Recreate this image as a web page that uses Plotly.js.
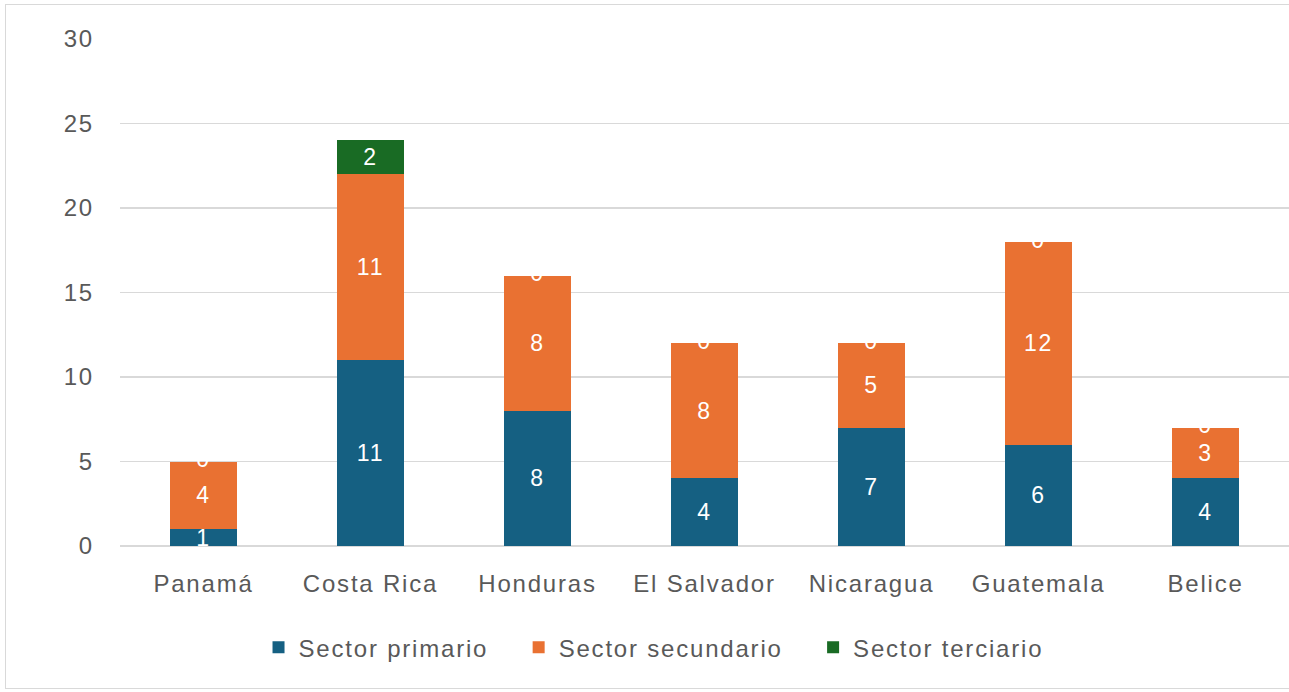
<!DOCTYPE html>
<html><head><meta charset="utf-8">
<script src="https://cdn.plot.ly/plotly-3.0.1.min.js"></script>
<style>
html,body{margin:0;padding:0;background:#fff;}
#wrap{position:relative;width:1289px;height:692px;}
#chart{width:1289px;height:692px;}
#frame{position:absolute;left:5px;top:4px;width:1300px;height:685px;border:1.5px solid #d9d9d9;pointer-events:none;box-sizing:border-box;}
text{letter-spacing:1.8px;}
</style></head>
<body><div id="wrap"><div id="chart"></div><div id="frame"></div></div>
<script>
const categories = ["Panamá","Costa Rica","Honduras","El Salvador","Nicaragua","Guatemala","Belice"];
const primario   = [1, 11, 8, 4, 7, 6, 4];
const secundario = [4, 11, 8, 8, 5, 12, 3];
const terciario  = [0, 2, 0, 0, 0, 0, 0];
const seriesNames = ["Sector primario","Sector secundario","Sector terciario"];
const colors = ["#156082","#E97132","#196B24"];
const FONT = "'Liberation Sans', Arial, sans-serif";
const FS = 24;
const PADNAME = "\u00a0\u00a0\u00a0";

function barTrace(vals, i){
  return {
    type:'bar', x:categories, y:vals,
    name: seriesNames[i] + (i < seriesNames.length-1 ? PADNAME : ''),
    marker:{color:colors[i], line:{width:0}},
    text: vals.map(v => v ? String(v) : ''),
    textposition:'inside', insidetextanchor:'middle', textangle:0,
    constraintext:'none', cliponaxis:false,
    textfont:{color:'#ffffff', size:FS-1, family:FONT},
    hoverinfo:'x+y+name'
  };
}
const tops = categories.map((c,k)=>primario[k]+secundario[k]+terciario[k]);
const zeroIdx = categories.map((c,k)=>k).filter(k=>terciario[k]===0);
const zeroLabels = {
  type:'scatter', mode:'text', showlegend:false, hoverinfo:'skip',
  x: zeroIdx.map(k=>categories[k]), y: zeroIdx.map(k=>tops[k]),
  text: zeroIdx.map(k=>String(terciario[k])),
  textposition:'middle center', cliponaxis:false,
  textfont:{color:'#ffffff', size:FS-1, family:FONT}
};
const data = [barTrace(primario,0), barTrace(secundario,1), barTrace(terciario,2), zeroLabels];
const layout = {
  width:1289, height:692, barmode:'stack', bargap:0.6,
  margin:{l:120, r:0, t:39, b:146, pad:0},
  paper_bgcolor:'#ffffff', plot_bgcolor:'#ffffff',
  font:{family:FONT, color:'#595959', size:FS},
  xaxis:{type:'category', showgrid:false, zeroline:false, showline:false,
         ticks:'', tickfont:{size:FS, color:'#595959'}, ticklabelstandoff:21},
  yaxis:{range:[0,30], dtick:5, showgrid:true, gridcolor:'#d9d9d9', gridwidth:1.5,
         zeroline:true, zerolinecolor:'#d9d9d9', zerolinewidth:1.5, showline:false,
         ticks:'', tickfont:{size:FS, color:'#595959'}, ticklabelstandoff:25},
  showlegend:true,
  legend:{orientation:'h', xref:'container', yref:'container', x:0.507, xanchor:'center',
          y:0.064, yanchor:'middle', font:{size:FS, color:'#595959'},
          itemwidth:30, tracegroupgap:0, traceorder:'normal'},
};
Plotly.newPlot('chart', data, layout, {displayModeBar:false, staticPlot:true});
</script></body></html>
